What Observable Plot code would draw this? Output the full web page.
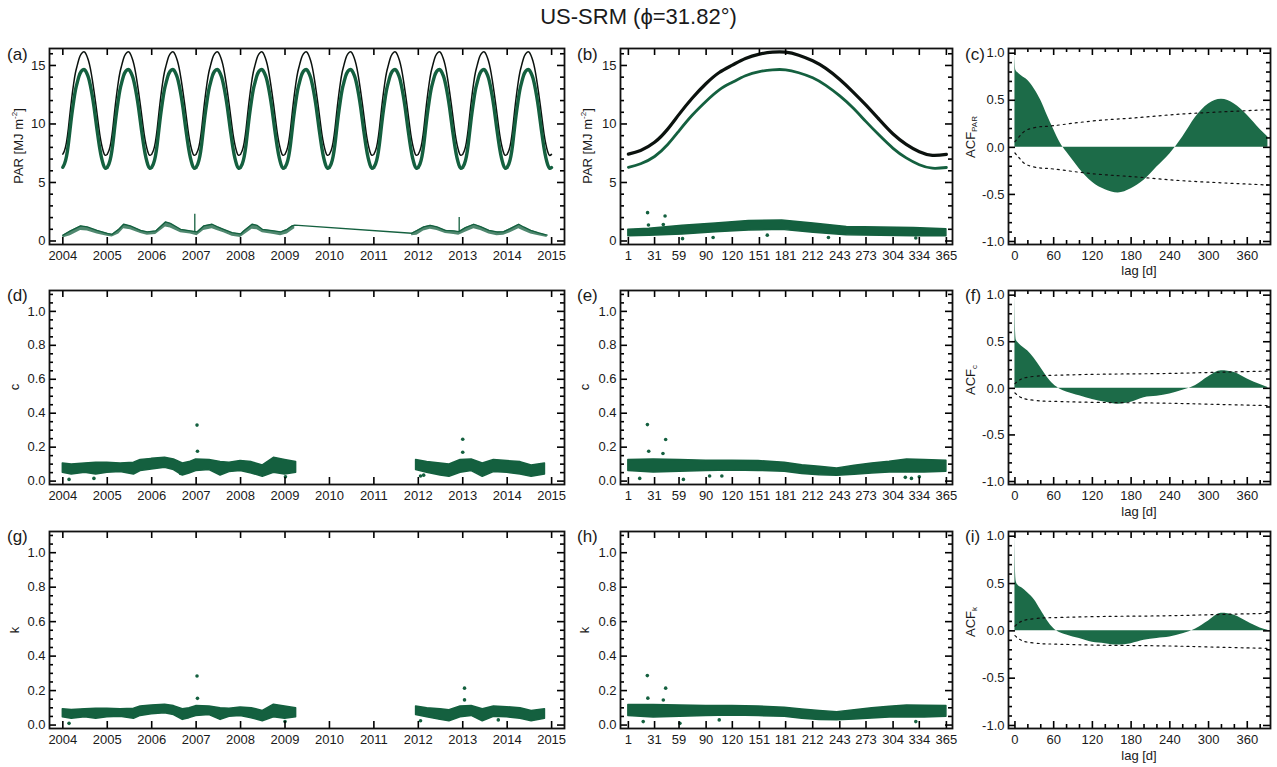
<!DOCTYPE html>
<html><head><meta charset="utf-8">
<script src="https://cdn.jsdelivr.net/npm/d3@7"></script>
<script src="https://cdn.jsdelivr.net/npm/@observablehq/plot@0.6"></script>
<style>
body{margin:0;background:#fff;font-family:"Liberation Sans",Arial,Helvetica,sans-serif;}
#wrap{position:relative;width:1277px;height:767px;overflow:hidden;background:#fff;}
.t{position:absolute;white-space:nowrap;color:#1a1a1a;line-height:1;}
.yl{position:absolute;white-space:nowrap;color:#1a1a1a;font-size:13px;line-height:1;transform:translate(-50%,-50%) rotate(-90deg);}
.yl sup{font-size:8px;vertical-align:6px;}
.yl sub{font-size:8px;vertical-align:-2px;}
</style></head><body><div id="wrap"></div>
<script>
// ---------------- DATA ----------------
const title = "US-SRM (ϕ=31.82°)";
const panelLetters = ["(a)","(b)","(c)","(d)","(e)","(f)","(g)","(h)","(i)"];

// climatological daily cycle (day of year)
const doy       = [1,15,31,46,59,74,90,105,120,135,151,166,181,196,212,227,243,258,273,288,304,319,334,349,365];
const parClear  = [7.42,7.74,8.43,9.56,10.82,12.2,13.46,14.4,15.03,15.6,15.97,16.14,16.14,15.88,15.4,14.75,13.8,12.75,11.61,10.39,9.14,8.26,7.63,7.32,7.40];
const parModel  = [6.30,6.60,7.22,8.25,9.42,10.75,11.95,12.92,13.56,14.12,14.48,14.63,14.63,14.38,13.95,13.3,12.4,11.38,10.2,9.05,7.92,7.1,6.52,6.22,6.28];
const dataYears = [2004,2005,2006,2007,2008,2009,2010,2011,2012,2013,2014];

// panel (a) lower series (two data segments)
const pa1T  = [2004.0,2004.17,2004.40,2004.55,2004.77,2005.0,2005.11,2005.26,2005.37,2005.52,2005.75,2005.9,2006.09,2006.31,2006.42,2006.65,2006.87,2007.02,2007.17,2007.36,2007.47,2007.62,2007.81,2008.0,2008.07,2008.26,2008.37,2008.49,2008.75,2008.9,2009.05,2009.16,2009.22];
const pa1Hi = [0.49,0.86,1.29,1.2,0.9,0.66,0.57,1.0,1.43,1.29,0.91,0.77,0.86,1.63,1.51,1.0,0.86,0.77,1.29,1.43,1.23,1.0,0.71,0.6,0.86,1.43,1.34,1.0,0.86,0.77,1.0,1.29,1.35];
const pa1Lo = [0.25,0.45,0.9,0.85,0.6,0.4,0.35,0.6,1.05,0.95,0.65,0.5,0.55,1.2,1.1,0.7,0.6,0.45,0.9,1.05,0.9,0.7,0.4,0.3,0.5,1.0,0.95,0.7,0.55,0.45,0.6,0.9,1.05];
const pa2T  = [2011.85,2011.97,2012.12,2012.27,2012.42,2012.61,2012.80,2012.91,2013.06,2013.25,2013.40,2013.59,2013.77,2013.92,2014.07,2014.26,2014.37,2014.53,2014.71,2014.9];
const pa2Hi = [0.66,0.9,1.2,1.34,1.2,0.91,0.86,0.8,1.14,1.43,1.23,0.91,0.77,0.8,1.06,1.43,1.2,0.91,0.7,0.5];
const pa2Lo = [0.45,0.5,0.85,1.0,0.9,0.65,0.55,0.5,0.75,1.05,0.9,0.6,0.45,0.5,0.7,1.05,0.85,0.6,0.45,0.3];
const paSpikeT  = [2006.97,2012.92];
const paSpikeLo = [0.8,0.8];
const paSpikeHi = [2.29,2.0];

// panel (b) lower scatter band and outliers
const bD   = [1,25,63,101,139,177,213,251,290,328,365];
const bHi  = [0.95,1.05,1.3,1.5,1.7,1.75,1.5,1.2,1.15,1.1,1.0];
const bLo  = [0.4,0.45,0.55,0.75,0.9,0.95,0.7,0.5,0.45,0.4,0.4];
const bOutD = [23,43,24,41,63,98,160,230,330];
const bOutV = [2.42,2.13,1.37,1.4,0.2,0.3,0.5,0.3,0.25];

// panel (d) c time series band (two segments) and outliers
const c1T  = [2004.0,2004.2,2004.5,2004.75,2005.0,2005.3,2005.6,2005.75,2006.0,2006.3,2006.5,2006.7,2006.85,2007.0,2007.3,2007.55,2007.75,2008.0,2008.25,2008.5,2008.75,2009.0,2009.25];
const c1Hi = [0.104,0.098,0.104,0.108,0.108,0.104,0.108,0.124,0.131,0.137,0.127,0.104,0.112,0.127,0.124,0.112,0.108,0.118,0.112,0.092,0.137,0.124,0.112];
const c1Lo = [0.049,0.039,0.049,0.039,0.049,0.053,0.039,0.059,0.069,0.078,0.065,0.033,0.045,0.059,0.065,0.033,0.053,0.059,0.045,0.025,0.049,0.039,0.049];
const c2T  = [2011.95,2012.2,2012.5,2012.7,2012.95,2013.2,2013.45,2013.7,2014.0,2014.3,2014.55,2014.85];
const c2Hi = [0.124,0.112,0.104,0.098,0.124,0.127,0.104,0.124,0.118,0.112,0.092,0.104];
const c2Lo = [0.065,0.049,0.033,0.025,0.049,0.059,0.025,0.053,0.049,0.039,0.025,0.039];
const cOutT = [2007.02,2007.03,2013.0,2013.0,2004.14,2004.7,2009.01,2012.05,2012.12,2006.65];
const cOutV = [0.33,0.176,0.247,0.17,0.01,0.016,0.025,0.03,0.035,0.045];

// panel (g) k time series band and outliers
const k1Hi = [0.092,0.088,0.092,0.095,0.095,0.092,0.095,0.108,0.114,0.118,0.11,0.092,0.098,0.11,0.108,0.098,0.095,0.102,0.098,0.082,0.118,0.108,0.098];
const k1Lo = [0.045,0.036,0.045,0.036,0.045,0.048,0.036,0.053,0.062,0.068,0.058,0.03,0.04,0.053,0.058,0.03,0.048,0.053,0.04,0.022,0.045,0.036,0.045];
const k2Hi = [0.108,0.098,0.092,0.086,0.108,0.11,0.092,0.108,0.104,0.098,0.082,0.092];
const k2Lo = [0.058,0.045,0.03,0.022,0.045,0.053,0.022,0.048,0.045,0.036,0.022,0.036];
const kOutT = [2007.02,2007.03,2013.04,2013.04,2004.14,2009.0,2012.05,2013.8];
const kOutV = [0.285,0.155,0.214,0.146,0.01,0.02,0.025,0.03];

// panels (e),(h) day-of-year scatter bands and outliers
const eD   = [1,30,60,90,120,150,180,200,220,240,260,280,300,320,340,365];
const eHi  = [0.124,0.127,0.124,0.12,0.12,0.118,0.108,0.094,0.084,0.075,0.09,0.104,0.114,0.127,0.124,0.12];
const eLo  = [0.06,0.05,0.055,0.06,0.062,0.06,0.055,0.042,0.035,0.032,0.038,0.045,0.05,0.05,0.05,0.055];
const eOutD = [22.8,24.3,43.7,40.6,14,64,94,108,318,325,334];
const eOutV = [0.333,0.176,0.245,0.163,0.016,0.01,0.03,0.03,0.022,0.016,0.025];
const hHi  = [0.117,0.117,0.114,0.11,0.11,0.108,0.1,0.09,0.082,0.075,0.086,0.098,0.106,0.114,0.112,0.11];
const hLo  = [0.052,0.044,0.048,0.052,0.055,0.052,0.048,0.036,0.03,0.028,0.032,0.038,0.044,0.044,0.044,0.048];
const hOutD = [22.7,23.3,43.7,41,18,60,105,330];
const hOutV = [0.287,0.156,0.214,0.145,0.02,0.01,0.03,0.02];

// ACF panels
const lags   = [0,1,2,5,10,20,30,40,50,60,70,80,90,100,120,140,160,180,200,220,240,260,280,300,320,340,360,380,392];
const acfPAR = [1.0,0.83,0.81,0.79,0.76,0.71,0.62,0.50,0.34,0.19,0.05,-0.05,-0.14,-0.23,-0.37,-0.45,-0.485,-0.44,-0.35,-0.21,-0.07,0.11,0.32,0.46,0.51,0.46,0.34,0.19,0.11];
const acfC   = [1.0,0.6,0.52,0.49,0.455,0.40,0.32,0.22,0.12,0.04,-0.01,-0.04,-0.06,-0.08,-0.12,-0.15,-0.17,-0.15,-0.10,-0.085,-0.06,-0.02,0.03,0.125,0.19,0.17,0.10,0.04,0.01];
const acfK   = [1.0,0.6,0.52,0.48,0.457,0.40,0.33,0.22,0.11,0.025,-0.02,-0.045,-0.065,-0.08,-0.12,-0.135,-0.15,-0.135,-0.10,-0.08,-0.065,-0.03,0.02,0.105,0.185,0.165,0.095,0.03,0.007];
const confLag = [0,5,10,20,40,60,120,180,240,300,360,392];
const confPAR = [0.06,0.1,0.14,0.19,0.22,0.23,0.28,0.31,0.345,0.37,0.39,0.40];
const confC   = [0.05,0.08,0.1,0.12,0.135,0.14,0.15,0.155,0.16,0.17,0.18,0.185];
const confK   = [0.05,0.08,0.1,0.12,0.135,0.14,0.15,0.155,0.16,0.17,0.18,0.185];

// ticks
const yearTicks  = [2004,2005,2006,2007,2008,2009,2010,2011,2012,2013,2014,2015];
const monthTicks = [1,31,59,90,120,151,181,212,243,273,304,334,365];
const lagTicks   = [0,60,120,180,240,300,360];
const lagMinor   = [20,40,80,100,140,160,200,220,260,280,320,340,380];
const parTicks   = [0,5,10,15];
const parMinor   = [1,2,3,4,6,7,8,9,11,12,13,14,16];
const ckTicks    = [0,0.2,0.4,0.6,0.8,1.0];
const ckMinor    = [0.05,0.1,0.15,0.25,0.3,0.35,0.45,0.5,0.55,0.65,0.7,0.75,0.85,0.9,0.95,1.05,1.1];
const acfTicks   = [-1,-0.5,0,0.5,1];
const acfMinor   = [-0.9,-0.8,-0.7,-0.6,-0.4,-0.3,-0.2,-0.1,0.1,0.2,0.3,0.4,0.6,0.7,0.8,0.9];

// ---------------- TABLES ----------------
const GREEN = "#14603f";
const BLACK = "#0b120e";
const FONT = "Liberation Sans, Arial, Helvetica, sans-serif";

const clim = doy.map((d,i) => ({d, clear: parClear[i], model: parModel[i]}));
const aSeries = dataYears.flatMap(yr => clim.map(r => ({t: yr + (r.d-1)/365, clear: r.clear, model: r.model})));
const pa1 = pa1T.map((t,i) => ({t, hi: pa1Hi[i], lo: pa1Lo[i]}));
const pa2 = pa2T.map((t,i) => ({t, hi: pa2Hi[i], lo: pa2Lo[i]}));
const paSpk = paSpikeT.map((t,i) => ({t, lo: paSpikeLo[i], hi: paSpikeHi[i]}));
const bBand = bD.map((d,i) => ({d, hi: bHi[i], lo: bLo[i]}));
const bOut = bOutD.map((d,i) => ({d, v: bOutV[i]}));
const c1 = c1T.map((t,i) => ({t, hi: c1Hi[i], lo: c1Lo[i]}));
const c2 = c2T.map((t,i) => ({t, hi: c2Hi[i], lo: c2Lo[i]}));
const cOut = cOutT.map((t,i) => ({t, v: cOutV[i]}));
const k1 = c1T.map((t,i) => ({t, hi: k1Hi[i], lo: k1Lo[i]}));
const k2 = c2T.map((t,i) => ({t, hi: k2Hi[i], lo: k2Lo[i]}));
const kOut = kOutT.map((t,i) => ({t, v: kOutV[i]}));
const eBand = eD.map((d,i) => ({d, hi: eHi[i], lo: eLo[i]}));
const eOut = eOutD.map((d,i) => ({d, v: eOutV[i]}));
const hBand = eD.map((d,i) => ({d, hi: hHi[i], lo: hLo[i]}));
const hOut = hOutD.map((d,i) => ({d, v: hOutV[i]}));
const acfTable = arr => lags.map((lag,i) => ({lag, v: arr[i]}));
const confTable = arr => confLag.map((lag,i) => ({lag, up: arr[i], dn: -arr[i]}));

// ---------------- LAYOUT ----------------
const wrap = document.getElementById("wrap");
function addDiv(cls, html, css) {
  const d = document.createElement("div"); d.className = cls; d.innerHTML = html;
  Object.assign(d.style, css); wrap.appendChild(d); return d;
}
// inward tick marks on all four sides (box style)
function boxTicks(xd, yd, w, h, xt, xm, yt, ym) {
  const tk = {stroke: "#000", strokeWidth: 1.6};
  const sx = (xd[1] - xd[0]) / w, sy = (yd[1] - yd[0]) / h;
  const out = [];
  [[xt, 7], [xm, 4]].forEach(([arr, L]) => {
    out.push(Plot.ruleX(arr, {x: d => d, y1: () => yd[0], y2: () => yd[0] + L * sy, ...tk}));
    out.push(Plot.ruleX(arr, {x: d => d, y1: () => yd[1], y2: () => yd[1] - L * sy, ...tk}));
  });
  [[yt, 7], [ym, 4]].forEach(([arr, L]) => {
    out.push(Plot.ruleY(arr, {y: d => d, x1: () => xd[0], x2: () => xd[0] + L * sx, ...tk}));
    out.push(Plot.ruleY(arr, {y: d => d, x1: () => xd[1], x2: () => xd[1] - L * sx, ...tk}));
  });
  return out;
}
function panel({left, top, w, h, xd, yd, marks, xt, xm = [], yt, ym = [], xf, yf}) {
  const mL = 44, mR = 6, mT = 6, mB = 30;
  const svg = Plot.plot({
    width: w + mL + mR, height: h + mT + mB,
    marginLeft: mL, marginRight: mR, marginTop: mT, marginBottom: mB,
    x: {domain: xd}, y: {domain: yd},
    style: {fontFamily: FONT, fontSize: "13px", color: "#1a1a1a", background: "transparent"},
    marks: [
      ...marks,
      Plot.axisX(xt, {tickSize: 0, tickPadding: 6, tickFormat: xf, label: null, fontSize: 13}),
      Plot.axisY(yt, {tickSize: 0, tickPadding: 4, tickFormat: yf, label: null, fontSize: 13}),
      ...boxTicks(xd, yd, w, h, xt, xm, yt, ym),
      Plot.frame({stroke: "#111", strokeWidth: 1.8})
    ]
  });
  svg.style.position = "absolute";
  svg.style.left = (left - mL) + "px";
  svg.style.top = (top - mT) + "px";
  wrap.appendChild(svg);
}

const cols = [{left: 49, w: 515}, {left: 620, w: 332}, {left: 1008, w: 262}];
const rows = [{top: 48, h: 196}, {top: 290, h: 194}, {top: 531, h: 197}];
const yearDom = [2003.7, 2015.29], doyDom = [-8, 372], lagDom = [-10, 396];
const parDom = [-0.3, 16.45], ckDom = [-0.02, 1.123], acfDom = [-1.032, 1.05];
const f1 = d => d.toFixed(1), fi = d => String(d);

function band(data, xk) { return Plot.areaY(data, {x: xk, y1: "lo", y2: "hi", fill: GREEN, stroke: GREEN, strokeWidth: 1.5, curve: "linear"}); }
function dots(data, xk) { return Plot.dot(data, {x: xk, y: "v", r: 1.8, fill: GREEN}); }
function acfMarks(arr, conf) {
  return [
    Plot.areaY(acfTable(arr), {x: "lag", y1: 0, y2: "v", fill: "#1c6b48", curve: "monotone-x"}),
    Plot.line(confTable(conf), {x: "lag", y: "up", stroke: "#111", strokeWidth: 1.2, strokeDasharray: "2,4", curve: "natural"}),
    Plot.line(confTable(conf), {x: "lag", y: "dn", stroke: "#111", strokeWidth: 1.2, strokeDasharray: "2,4", curve: "natural"})
  ];
}

// (a)
panel({...cols[0], ...rows[0], xd: yearDom, yd: parDom, xt: yearTicks, yt: parTicks, ym: parMinor, xf: fi, yf: fi, marks: [
  Plot.line(aSeries, {x: "t", y: "clear", stroke: BLACK, strokeWidth: 1.5, curve: "natural"}),
  Plot.line(aSeries, {x: "t", y: "model", stroke: GREEN, strokeWidth: 3.4, curve: "natural"}),
  Plot.areaY(pa1, {x: "t", y1: "lo", y2: "hi", fill: GREEN, fillOpacity: 0.75}),
  Plot.areaY(pa2, {x: "t", y1: "lo", y2: "hi", fill: GREEN, fillOpacity: 0.75}),
  Plot.line([...pa1, ...pa2], {x: "t", y: "hi", stroke: GREEN, strokeWidth: 1.3}),
  Plot.ruleX(paSpk, {x: "t", y1: "lo", y2: "hi", stroke: GREEN, strokeWidth: 1.3})
]});
// (b)
panel({...cols[1], ...rows[0], xd: doyDom, yd: parDom, xt: monthTicks, yt: parTicks, ym: parMinor, xf: fi, yf: fi, marks: [
  Plot.line(clim, {x: "d", y: "clear", stroke: BLACK, strokeWidth: 3.2, curve: "natural"}),
  Plot.line(clim, {x: "d", y: "model", stroke: GREEN, strokeWidth: 2.8, curve: "natural"}),
  band(bBand, "d"), dots(bOut, "d")
]});
// (c)
panel({...cols[2], ...rows[0], xd: lagDom, yd: acfDom, xt: lagTicks, xm: lagMinor, yt: acfTicks, ym: acfMinor, xf: fi, yf: f1, marks: acfMarks(acfPAR, confPAR)});
// (d)
panel({...cols[0], ...rows[1], xd: yearDom, yd: ckDom, xt: yearTicks, yt: ckTicks, ym: ckMinor, xf: fi, yf: f1, marks: [band(c1, "t"), band(c2, "t"), dots(cOut, "t")]});
// (e)
panel({...cols[1], ...rows[1], xd: doyDom, yd: ckDom, xt: monthTicks, yt: ckTicks, ym: ckMinor, xf: fi, yf: f1, marks: [band(eBand, "d"), dots(eOut, "d")]});
// (f)
panel({...cols[2], ...rows[1], xd: lagDom, yd: acfDom, xt: lagTicks, xm: lagMinor, yt: acfTicks, ym: acfMinor, xf: fi, yf: f1, marks: acfMarks(acfC, confC)});
// (g)
panel({...cols[0], ...rows[2], xd: yearDom, yd: ckDom, xt: yearTicks, yt: ckTicks, ym: ckMinor, xf: fi, yf: f1, marks: [band(k1, "t"), band(k2, "t"), dots(kOut, "t")]});
// (h)
panel({...cols[1], ...rows[2], xd: doyDom, yd: ckDom, xt: monthTicks, yt: ckTicks, ym: ckMinor, xf: fi, yf: f1, marks: [band(hBand, "d"), dots(hOut, "d")]});
// (i)
panel({...cols[2], ...rows[2], xd: lagDom, yd: acfDom, xt: lagTicks, xm: lagMinor, yt: acfTicks, ym: acfMinor, xf: fi, yf: f1, marks: acfMarks(acfK, confK)});

// ---------------- TEXT ----------------
addDiv("t", title, {left: "0px", top: "6px", width: "1277px", textAlign: "center", fontSize: "22px"});
const labelX = [7, 577, 965], labelY = [46, 287, 528];
panelLetters.forEach((s, i) => addDiv("t", s, {left: labelX[i % 3] + "px", top: labelY[Math.floor(i / 3)] + "px", fontSize: "17px"}));
const ylabs = [
  ["PAR [MJ m<sup>-2</sup>]", 18, 146], ["PAR [MJ m<sup>-2</sup>]", 587, 146], ["ACF<sub>PAR</sub>", 971, 137],
  ["c", 14, 387], ["c", 584, 387], ["ACF<sub>c</sub>", 971, 380],
  ["k", 14, 630], ["k", 584, 630], ["ACF<sub>k</sub>", 971, 622]
];
ylabs.forEach(([s, x, y]) => addDiv("yl", s, {left: x + "px", top: y + "px"}));
[270, 511, 755].forEach(y => addDiv("t", "lag [d]", {left: "1139px", top: y + "px", fontSize: "13px", transform: "translate(-50%,-50%)"}));
</script></body></html>
